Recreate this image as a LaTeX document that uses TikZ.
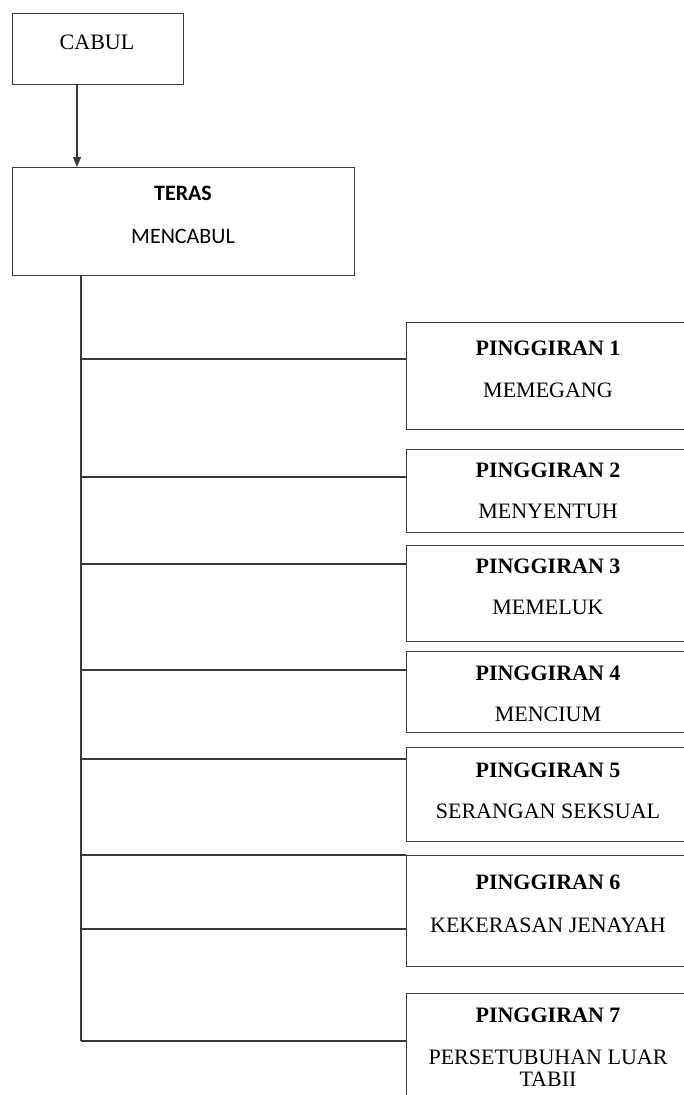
\documentclass[tikz,border=0pt]{standalone}
\usepackage{fontspec}
\setmainfont{Liberation Serif}
\newfontfamily\carlito{Carlito}
\usetikzlibrary{arrows.meta}
\definecolor{linegray}{HTML}{3A3A3A}
\begin{document}
\begin{tikzpicture}[x=1pt,y=1pt,
  frame/.style={draw=linegray,line width=1.3pt,inner sep=0pt,anchor=north west},
  conn/.style={draw=linegray,line width=1.3pt},
  serif/.style={font=\fontsize{22}{24}\selectfont,inner sep=0pt},
  sans/.style={font=\carlito\fontsize{22}{24}\selectfont,inner sep=0pt},
  title/.style={serif,font=\fontsize{22}{24}\selectfont\bfseries}]
\useasboundingbox (0,0) rectangle (684,-1095);
\clip (0,0) rectangle (684,-1095);

% top boxes
\node[frame,minimum width=171pt,minimum height=71pt] (cabul) at (12,-13) {};
\node[serif] (cabultxt) at (97,-42) {CABUL};
\node[frame,minimum width=342pt,minimum height=108pt] (teras) at (12,-167) {};
\node[sans,font=\carlito\fontsize{22}{24}\selectfont\bfseries] (terastitle) at (183,-193) {TERAS};
\node[sans] (terastxt) at (183,-236) {MENCABUL};

% arrow between the top boxes
\coordinate (ax) at (77,0);
\draw[conn,-{Triangle[length=10pt,width=8pt]}] (ax |- cabul.south) -- (ax |- teras.north);

% side boxes
\node[frame,minimum width=290pt,minimum height=107pt] (p1) at (406,-322) {};
\node[frame,minimum width=290pt,minimum height=83pt] (p2) at (406,-449) {};
\node[frame,minimum width=290pt,minimum height=96pt] (p3) at (406,-545) {};
\node[frame,minimum width=290pt,minimum height=81pt] (p4) at (406,-651) {};
\node[frame,minimum width=290pt,minimum height=94pt] (p5) at (406,-747) {};
\node[frame,minimum width=290pt,minimum height=111pt] (p6) at (406,-855) {};
\node[frame,minimum width=290pt,minimum height=130pt] (p7) at (406,-993) {};

\node[title] (p1t) at (548,-348) {PINGGIRAN 1};
\node[serif] (p1s) at (548,-390) {MEMEGANG};
\node[title] (p2t) at (548,-470) {PINGGIRAN 2};
\node[serif] (p2s) at (548,-511) {MENYENTUH};
\node[title] (p3t) at (548,-566) {PINGGIRAN 3};
\node[serif] (p3s) at (548,-607) {MEMELUK};
\node[title] (p4t) at (548,-673) {PINGGIRAN 4};
\node[serif] (p4s) at (548,-714) {MENCIUM};
\node[title] (p5t) at (548,-770) {PINGGIRAN 5};
\node[serif] (p5s) at (548,-811) {SERANGAN SEKSUAL};
\node[title] (p6t) at (548,-882) {PINGGIRAN 6};
\node[serif] (p6s) at (548,-925) {KEKERASAN JENAYAH};
\node[title] (p7t) at (548,-1015) {PINGGIRAN 7};
\node[serif,align=center,font=\fontsize{22}{22}\selectfont] (p7s) at (548,-1068) {PERSETUBUHAN LUAR\\TABII};

% trunk and branches
\coordinate (trunk) at (81,0);
\coordinate (trunkend) at (81,-1041);
\draw[conn] (trunk |- teras.south) -- (trunkend);

\coordinate (b1) at (81,-359);
\coordinate (b2) at (81,-477);
\coordinate (b3) at (81,-564);
\coordinate (b4) at (81,-670);
\coordinate (b5) at (81,-759);
\coordinate (b6a) at (81,-855);
\coordinate (b6b) at (81,-929);
\draw[conn] (b1) -- (b1 -| p1.west);
\draw[conn] (b2) -- (b2 -| p2.west);
\draw[conn] (b3) -- (b3 -| p3.west);
\draw[conn] (b4) -- (b4 -| p4.west);
\draw[conn] (b5) -- (b5 -| p5.west);
\draw[conn] (b6a) -- (p6.north west);
\draw[conn] (b6b) -- (b6b -| p6.west);
\draw[conn] (trunkend) -- (trunkend -| p7.west);
\end{tikzpicture}
\end{document}
